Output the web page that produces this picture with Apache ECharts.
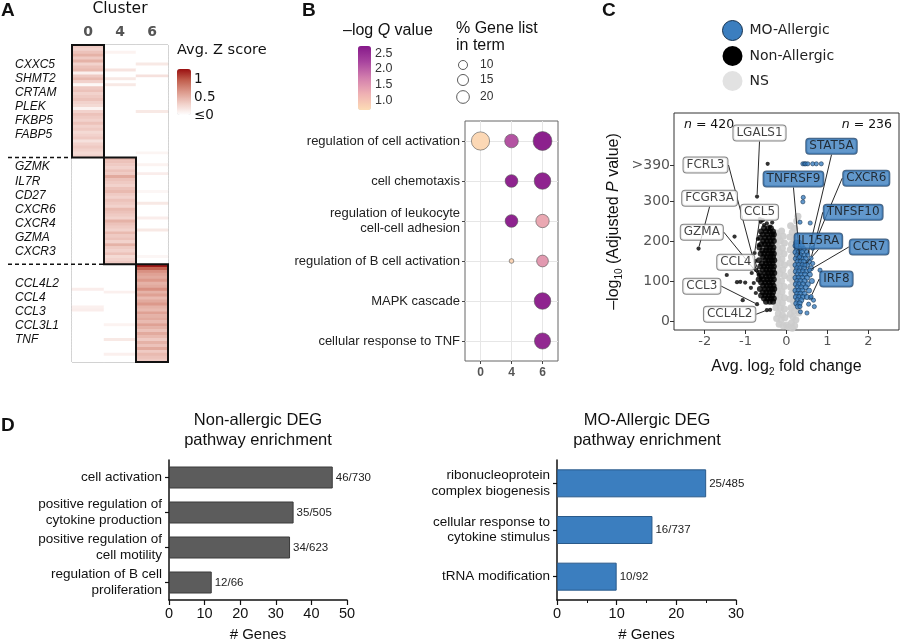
<!DOCTYPE html>
<html>
<head>
<meta charset="utf-8">
<title>Cluster DEG figure</title>
<script src="https://cdn.jsdelivr.net/npm/echarts@6/dist/echarts.min.js"></script>
<style>
  html, body { margin: 0; padding: 0; background: #fff; }
  #main { width: 900px; height: 643px; }
</style>
</head>
<body>
<div id="main"></div>
<script>
// ---------- A: avg Z score heatmap ----------
var clusters = ['0', '4', '6'];
// diagonal block of each cluster, one value per gene row (top to bottom)
var zOwn0 = [0.35, 0.3, 0.4, 0.5, 0.35, 0.5, 0.3, 0.4, 0.45, 0.1, 0.35, 0.45, 0.3, 0.05, 0.35, 0.4, 0.3, 0.35, 0.4,
  0.3, 0.25, 0.08, 0.3, 0.4, 0.35, 0.3, 0.4, 0.3, 0.35, 0.25, 0.3, 0.35, 0.2, 0.3, 0.35, 0.3, 0.25, 0.3];
var zOwn4 = [0.45, 0.4, 0.35, 0.3, 0.4, 0.35, 0.55, 0.4, 0.35, 0.3, 0.4, 0.45, 0.35, 0.3, 0.4, 0.35, 0.3, 0.45,
  0.4, 0.35, 0.3, 0.5, 0.4, 0.35, 0.3, 0.45, 0.35, 0.4, 0.3, 0.5, 0.35, 0.3, 0.4, 0.25, 0.3, 0.35];
var zOwn6 = [1.25, 0.95, 0.7, 0.6, 0.55, 0.65, 0.5, 0.55, 0.7, 0.5, 0.6, 0.45, 0.55, 0.65, 0.5, 0.45, 0.6, 0.5,
  0.55, 0.45, 0.6, 0.5, 0.4, 0.55, 0.45, 0.35, 0.5, 0.4, 0.55, 0.35, 0.45, 0.4, 0.35];
// faint off-block cells: [column, row, value]
var zFaint = [[1, 2, 0.08], [1, 8, 0.18], [1, 11, 0.15], [1, 13, 0.15],
  [2, 6, 0.15], [2, 10, 0.2], [2, 22, 0.15], [2, 36, 0.07],
  [2, 40, 0.08], [2, 43, 0.12], [2, 49, 0.06], [2, 53, 0.15], [2, 58, 0.12], [2, 62, 0.15], [2, 71, 0.06],
  [0, 82, 0.12], [0, 88, 0.1], [0, 89, 0.12],
  [1, 83, 0.1], [1, 94, 0.08], [1, 99, 0.15], [1, 104, 0.1]];
var genes0 = ['CXXC5', 'SHMT2', 'CRTAM', 'PLEK', 'FKBP5', 'FABP5'];
var genes4 = ['GZMK', 'IL7R', 'CD27', 'CXCR6', 'CXCR4', 'GZMA', 'CXCR3'];
var genes6 = ['CCL4L2', 'CCL4', 'CCL3', 'CCL3L1', 'TNF'];
var zTicks = [1, 0.5, 0];

// ---------- B: GO term dot plot ----------
var terms = ['regulation of cell activation', 'cell chemotaxis', 'regulation of leukocyte\ncell-cell adhesion',
  'regulation of B cell activation', 'MAPK cascade', 'cellular response to TNF'];
// [cluster, term index, % gene list in term, -log Q]
var dotData = [
  ['0', 0, 41, 0.75], ['4', 0, 23, 2.1], ['6', 0, 44, 2.65],
  ['4', 1, 20, 2.6], ['6', 1, 34, 2.6],
  ['4', 2, 20, 2.62], ['6', 2, 22, 1.3],
  ['4', 3, 2.7, 0.8], ['6', 3, 17, 1.45],
  ['6', 4, 34, 2.6],
  ['6', 5, 32, 2.55]
];
var qTicks = [2.5, 2.0, 1.5, 1.0];
var pctTicks = [10, 15, 20];

// ---------- C: volcano ----------
var nsPts = [[-0.25, 220], [-0.12, 225], [-0.2, 210], [-0.08, 212], [-0.27, 198], [-0.15, 200], [-0.05, 195],
  [-0.22, 185], [-0.1, 182], [-0.26, 170], [-0.17, 172], [-0.06, 168], [-0.21, 158], [-0.11, 155], [-0.25, 143],
  [-0.15, 145], [-0.05, 140], [-0.2, 130], [-0.09, 128], [-0.26, 117], [-0.16, 118], [-0.05, 113], [-0.22, 103],
  [-0.12, 100], [-0.27, 90], [-0.17, 88], [-0.06, 86], [-0.22, 75], [-0.11, 73], [-0.26, 62], [-0.16, 60],
  [-0.05, 58], [-0.21, 47], [-0.1, 45], [-0.26, 33], [-0.15, 32], [-0.05, 30], [-0.2, 18], [-0.1, 15],
  [-0.24, 6], [-0.13, 3], [-0.04, 8], [-0.18, -8], [-0.08, -12],
  [0.1, 238], [0.2, 232], [0.14, 222], [0.24, 215], [0.08, 210], [0.18, 203], [0.12, 192], [0.23, 188],
  [0.09, 178], [0.17, 172], [0.25, 165], [0.12, 160], [0.2, 150], [0.08, 145], [0.16, 137], [0.24, 130],
  [0.11, 122], [0.19, 115], [0.08, 107], [0.15, 100], [0.23, 93], [0.1, 85], [0.19, 78], [0.13, 70],
  [0.22, 62], [0.08, 55], [0.17, 48], [0.24, 40], [0.11, 33], [0.19, 25], [0.09, 17], [0.16, 10],
  [0.23, 3], [0.12, -5], [0.2, -12], [0.28, 262], [0.25, 250], [0.3, 20], [0.05, -15], [0.0, -10], [0.14, -18]];
// dense core of the non-allergic cloud
var nonAllergicCore = [
  [-0.55, 232], [-0.45, 232], [-0.38, 232], [-0.62, 224], [-0.5, 224], [-0.41, 224], [-0.33, 224],
  [-0.58, 216], [-0.47, 216], [-0.36, 216], [-0.31, 216], [-0.64, 208], [-0.52, 208], [-0.43, 208], [-0.34, 208],
  [-0.57, 200], [-0.48, 200], [-0.39, 200], [-0.31, 200], [-0.62, 192], [-0.53, 192], [-0.44, 192], [-0.36, 192],
  [-0.66, 184], [-0.49, 184], [-0.4, 184], [-0.32, 184], [-0.59, 176], [-0.5, 176], [-0.42, 176], [-0.34, 176],
  [-0.63, 168], [-0.54, 168], [-0.45, 168], [-0.37, 168], [-0.31, 168], [-0.57, 160], [-0.48, 160], [-0.4, 160],
  [-0.33, 160], [-0.67, 152], [-0.52, 152], [-0.44, 152], [-0.36, 152], [-0.3, 152], [-0.6, 144], [-0.5, 144],
  [-0.42, 144], [-0.34, 144], [-0.64, 136], [-0.55, 136], [-0.46, 136], [-0.38, 136], [-0.31, 136],
  [-0.58, 128], [-0.49, 128], [-0.41, 128], [-0.33, 128], [-0.66, 120], [-0.53, 120], [-0.45, 120], [-0.37, 120],
  [-0.3, 120], [-0.6, 112], [-0.5, 112], [-0.42, 112], [-0.34, 112], [-0.68, 104], [-0.56, 104], [-0.47, 104],
  [-0.39, 104], [-0.31, 104], [-0.62, 96], [-0.52, 96], [-0.43, 96], [-0.35, 96], [-0.57, 88], [-0.48, 88],
  [-0.4, 88], [-0.32, 88], [-0.65, 80], [-0.53, 80], [-0.44, 80], [-0.36, 80], [-0.3, 80], [-0.58, 72],
  [-0.49, 72], [-0.41, 72], [-0.33, 72], [-0.62, 64], [-0.52, 64], [-0.43, 64], [-0.35, 64], [-0.55, 56],
  [-0.46, 56], [-0.38, 56], [-0.31, 56], [-0.5, 48], [-0.41, 48], [-0.33, 48]];
var nonAllergicPts = [
  [-0.46, 393], [-1.27, 211], [-1.46, 115], [-1.21, 97], [-1.13, 98], [-1.01, 96], [-0.87, 83],
  [-1.07, 52], [-0.4, 28], [-0.63, 248], [-0.55, 240], [-0.48, 244], [-0.4, 236], [-0.35, 246],
  [-0.68, 190], [-0.7, 205], [-0.76, 150], [-0.8, 95], [-0.75, 70], [-0.65, 255], [-0.58, 252], [-0.85, 120]];
// dense core of the MO-allergic cloud
var moAllergicCore = [
  [0.24, 196], [0.31, 196], [0.22, 188], [0.29, 188], [0.37, 188], [0.25, 180], [0.33, 180], [0.42, 180],
  [0.22, 172], [0.3, 172], [0.38, 172], [0.5, 172], [0.26, 164], [0.34, 164], [0.44, 164], [0.23, 156],
  [0.3, 156], [0.38, 156], [0.47, 156], [0.27, 148], [0.35, 148], [0.42, 148], [0.55, 148], [0.22, 140],
  [0.3, 140], [0.39, 140], [0.5, 140], [0.26, 132], [0.34, 132], [0.43, 132], [0.6, 132], [0.23, 124],
  [0.31, 124], [0.4, 124], [0.49, 124], [0.27, 116], [0.36, 116], [0.45, 116], [0.57, 116], [0.22, 108],
  [0.3, 108], [0.39, 108], [0.5, 108], [0.26, 100], [0.34, 100], [0.44, 100], [0.62, 100], [0.23, 92],
  [0.31, 92], [0.4, 92], [0.52, 92], [0.27, 84], [0.36, 84], [0.47, 84], [0.22, 76], [0.3, 76], [0.39, 76],
  [0.55, 76], [0.26, 68], [0.34, 68], [0.44, 68], [0.23, 60], [0.31, 60], [0.4, 60], [0.5, 60], [0.27, 52],
  [0.36, 52], [0.24, 44], [0.32, 44], [0.28, 36]];
var moAllergicPts = [
  [0.40, 393], [0.44, 393], [0.47, 393], [0.52, 393], [0.64, 393], [0.73, 393], [0.85, 393], [0.41, 309],
  [0.40, 298], [0.33, 247], [0.58, 245], [0.82, 127], [0.64, 144], [0.66, 52], [0.59, 58], [0.54, 42],
  [0.68, 36], [0.33, 36], [0.34, 23], [0.5, 20]];
var nonAllergicGenes = ['LGALS1', 'FCRL3', 'FCGR3A', 'GZMA', 'CCL5', 'CCL4', 'CCL3', 'CCL4L2'];
var nonAllergicGenePts = [[-0.72, 311], [-0.74, 127], [-2.15, 181], [-0.68, 115], [-0.78, 170], [-0.63, 107],
  [-0.72, 42], [-0.48, 27]];
var moAllergicGenes = ['STAT5A', 'TNFRSF9', 'CXCR6', 'TNFSF10', 'IL15RA', 'CCR7', 'IRF8'];
var moAllergicGenePts = [[0.52, 165], [0.32, 160], [0.64, 182], [0.6, 157], [0.45, 140], [0.56, 127], [0.6, 61]];
var fcTicks = [-2, -1, 0, 1, 2];
var pTicks = [0, 100, 200, 300, 390];
var nCounts = ['420', '236'];

// ---------- D: pathway enrichment bars ----------
var nonAllergicTerms = ['cell activation', 'positive regulation of\ncytokine production',
  'positive regulation of\ncell motility', 'regulation of B cell\nproliferation'];
var nonAllergicCounts = [46, 35, 34, 12];
var nonAllergicRatios = ['46/730', '35/505', '34/623', '12/66'];
var moAllergicTerms = ['ribonucleoprotein\ncomplex biogenesis', 'cellular response to\ncytokine stimulus',
  'tRNA modification'];
var moAllergicCounts = [25, 16, 10];
var moAllergicRatios = ['25/485', '16/737', '10/92'];

// ---------- layout (label spots in volcano data units) ----------
var nonAllergicSpots = [[-0.66, 470], [-1.98, 390], [-1.88, 307], [-2.07, 222], [-0.66, 272], [-1.24, 147],
  [-2.07, 87], [-1.39, 17]];
var moAllergicSpots = [[1.10, 437], [0.17, 355], [1.95, 357], [1.63, 272], [0.78, 200], [2.02, 185], [1.22, 105]];

var SANS = '"Liberation Sans", Arial, sans-serif';
var DEJA = '"DejaVu Sans", sans-serif';
var BLUE = '#3b7ebf';

var rowIds = [];
var heatData = [];
(function () {
  var r = 0;
  [zOwn0, zOwn4, zOwn6].forEach(function (vals, b) {
    vals.forEach(function (v) {
      rowIds.push(String(r));
      for (var c = 0; c < 3; c++) heatData.push([c, r, c === b ? v : 0]);
      r++;
    });
  });
  zFaint.forEach(function (f) { heatData[f[1] * 3 + f[0]][2] = f[2]; });
})();

var zMap = { min: 0, max: 1.29, left: 177, top: 69, w: 14, h: 46 };
var qMap = { min: 0.7, max: 2.73, left: 358, top: 46, w: 13, h: 64 };
function dotSize (p) { return 2.85 * Math.sqrt(p); }

var chart = echarts.init(document.getElementById('main'));

function geneLabelLayout (spots) {
  return function (p) {
    var px = chart.convertToPixel({ gridIndex: 2 }, spots[p.dataIndex]);
    return { x: px[0], y: px[1], align: 'center', verticalAlign: 'middle' };
  };
}

var option = {
  animation: false,
  backgroundColor: '#fff',
  textStyle: { fontFamily: SANS },
  grid: [
    { left: 72, top: 45, width: 96, height: 317, show: true, borderColor: '#888', borderWidth: 1 },
    { left: 465, top: 121, width: 93, height: 240, show: true, borderColor: '#666', borderWidth: 1 },
    { left: 674, top: 113, width: 225, height: 217, show: true, borderColor: '#333', borderWidth: 1 },
    { left: 169, top: 460, width: 178, height: 145 },
    { left: 557, top: 460, width: 179, height: 145 }
  ],
  legend: {
    data: [{ name: 'MO-Allergic', itemStyle: { color: BLUE, borderWidth: 1, borderColor: '#14304d', opacity: 1 } },
      { name: 'Non-Allergic', itemStyle: { color: '#000', borderWidth: 0, opacity: 1 } },
      { name: 'NS', itemStyle: { color: '#e2e2e2', borderWidth: 0, opacity: 1 } }],
    orient: 'vertical', left: 722, top: 20, padding: 0, itemWidth: 20, itemHeight: 20, itemGap: 5,
    icon: 'circle', selectedMode: false,
    textStyle: { fontSize: 14, fontFamily: DEJA, color: '#222', padding: [0, 0, 0, 2] }
  },
  visualMap: [
    {
      type: 'continuous', seriesIndex: 0, dimension: 2, min: zMap.min, max: zMap.max,
      left: zMap.left, top: zMap.top, itemWidth: zMap.w, itemHeight: zMap.h, padding: 0,
      calculable: false, text: ['', ''], hoverLink: false,
      inRange: { color: ['#ffffff', '#f1cfc8', '#dc9a8c', '#c2604f', '#9a1010'] }
    },
    {
      type: 'continuous', seriesIndex: 1, dimension: 3, min: qMap.min, max: qMap.max,
      left: qMap.left, top: qMap.top, itemWidth: qMap.w, itemHeight: qMap.h, padding: 0,
      calculable: false, text: ['', ''], hoverLink: false,
      inRange: { color: ['#fddcb5', '#efb1b3', '#d37fad', '#a9459f', '#86198a'] }
    }
  ],
  xAxis: [
    {
      gridIndex: 0, type: 'category', data: clusters, position: 'top',
      axisLine: { show: false }, axisTick: { show: false }, splitLine: { show: false },
      axisLabel: { color: '#555', fontWeight: 'bold', fontSize: 14, fontFamily: DEJA, margin: 6 },
      name: 'Cluster', nameLocation: 'middle', nameGap: 28,
      nameTextStyle: { fontSize: 15.5, color: '#111', fontFamily: DEJA }
    },
    {
      gridIndex: 1, type: 'category', data: clusters,
      axisLine: { show: false }, splitLine: { show: false },
      axisTick: { show: true, alignWithLabel: true, length: 3, lineStyle: { color: '#444' } },
      axisLabel: { color: '#555', fontWeight: 'bold', fontSize: 12, margin: 6 }
    },
    {
      gridIndex: 2, type: 'value', min: -2.75, max: 2.75,
      axisLine: { show: false, onZero: false }, splitLine: { show: false },
      axisTick: { show: true, customValues: fcTicks, length: 4, lineStyle: { color: '#333' } },
      axisLabel: { customValues: fcTicks, color: '#555', fontSize: 13, fontFamily: DEJA, margin: 5 },
      name: 'Avg. log{sub|2} fold change', nameLocation: 'middle', nameGap: 27,
      nameTextStyle: { fontSize: 16, color: '#111', rich: { sub: { fontSize: 10, verticalAlign: 'bottom', padding: [10, 0, 0, 0] } } }
    },
    {
      gridIndex: 3, type: 'value', min: 0, max: 50, interval: 10,
      axisLine: { show: true, onZero: false, lineStyle: { color: '#111', width: 1.5 } },
      axisTick: { show: true, length: 5, lineStyle: { color: '#111', width: 1.2 } },
      splitLine: { show: false },
      axisLabel: { color: '#111', fontSize: 14.5, margin: 6 },
      name: '# Genes', nameLocation: 'middle', nameGap: 27, nameTextStyle: { fontSize: 15, color: '#111' }
    },
    {
      gridIndex: 4, type: 'value', min: 0, max: 30, interval: 10,
      axisLine: { show: true, onZero: false, lineStyle: { color: '#111', width: 1.5 } },
      axisTick: { show: true, length: 5, lineStyle: { color: '#111', width: 1.2 } },
      minorTick: { show: true, splitNumber: 2, length: 3, lineStyle: { color: '#111' } },
      splitLine: { show: false },
      axisLabel: { color: '#111', fontSize: 14.5, margin: 6 },
      name: '# Genes', nameLocation: 'middle', nameGap: 27, nameTextStyle: { fontSize: 15, color: '#111' }
    }
  ],
  yAxis: [
    { gridIndex: 0, type: 'category', data: rowIds, inverse: true, show: false },
    {
      gridIndex: 1, type: 'category', data: terms, inverse: true,
      axisLine: { show: false }, splitLine: { show: false },
      axisTick: { show: true, alignWithLabel: true, length: 3, lineStyle: { color: '#444' } },
      axisLabel: { color: '#222', fontSize: 13, lineHeight: 15, margin: 5 }
    },
    {
      gridIndex: 2, type: 'value', min: -22.5, max: 520,
      axisLine: { show: false, onZero: false }, splitLine: { show: false },
      axisTick: { show: true, customValues: pTicks, length: 4, lineStyle: { color: '#333' } },
      axisLabel: {
        customValues: pTicks, color: '#555', fontSize: 14, fontFamily: DEJA, margin: 4,
        formatter: function (v) { return v === 390 ? '>390' : String(v); }
      },
      name: '\u2013log{sub|10} (Adjusted {i|P} value)', nameLocation: 'middle', nameGap: 50,
      nameTextStyle: {
        fontSize: 16, color: '#111',
        rich: { sub: { fontSize: 10, verticalAlign: 'bottom', padding: [10, 0, 0, 0] }, i: { fontSize: 16, fontStyle: 'italic' } }
      }
    },
    {
      gridIndex: 3, type: 'category', data: nonAllergicTerms, inverse: true,
      axisLine: { show: true, onZero: false, lineStyle: { color: '#111', width: 1.5 } },
      axisTick: { show: true, alignWithLabel: true, length: 4, lineStyle: { color: '#111', width: 1.2 } },
      axisLabel: { color: '#111', fontSize: 13.5, lineHeight: 15.5, margin: 7 }
    },
    {
      gridIndex: 4, type: 'category', data: moAllergicTerms, inverse: true,
      axisLine: { show: true, onZero: false, lineStyle: { color: '#111', width: 1.5 } },
      axisTick: { show: true, alignWithLabel: true, length: 4, lineStyle: { color: '#111', width: 1.2 } },
      axisLabel: { color: '#111', fontSize: 13.5, lineHeight: 15.5, margin: 7 }
    }
  ],
  series: [
    {
      type: 'heatmap', xAxisIndex: 0, yAxisIndex: 0, data: heatData, silent: true,
      itemStyle: { borderWidth: 0 }, emphasis: { disabled: true }
    },
    {
      type: 'scatter', xAxisIndex: 1, yAxisIndex: 1, z: 3, silent: true,
      data: dotData,
      symbolSize: function (v) { return dotSize(v[2]); },
      itemStyle: { borderColor: '#555', borderWidth: 0.6, opacity: 1 },
      markLine: {
        silent: true, symbol: 'none', z: 1, label: { show: false },
        lineStyle: { color: '#e6e6e6', type: 'solid', width: 1 },
        data: clusters.map(function (c) { return { xAxis: c }; })
          .concat(terms.map(function (t) { return { yAxis: t }; }))
      }
    },
    {
      name: 'NS', type: 'scatter', xAxisIndex: 2, yAxisIndex: 2, z: 2, silent: true,
      data: nsPts, symbolSize: 7, itemStyle: { color: '#cccccc', opacity: 0.9 }
    },
    {
      name: 'Non-Allergic', type: 'scatter', xAxisIndex: 2, yAxisIndex: 2, z: 3, silent: true,
      data: nonAllergicCore, symbolSize: 6, itemStyle: { color: '#000' }
    },
    {
      name: 'Non-Allergic', type: 'scatter', xAxisIndex: 2, yAxisIndex: 2, z: 3, silent: true,
      data: nonAllergicPts, symbolSize: 4.2, itemStyle: { color: '#000' }
    },
    {
      name: 'MO-Allergic', type: 'scatter', xAxisIndex: 2, yAxisIndex: 2, z: 4, silent: true,
      data: moAllergicCore, symbolSize: 5.2, itemStyle: { color: BLUE, borderColor: '#14304d', borderWidth: 0.7 }
    },
    {
      name: 'MO-Allergic', type: 'scatter', xAxisIndex: 2, yAxisIndex: 2, z: 4, silent: true,
      data: moAllergicPts, symbolSize: 4.2, itemStyle: { color: BLUE, borderColor: '#14304d', borderWidth: 0.7 }
    },
    {
      name: 'Non-Allergic', type: 'scatter', xAxisIndex: 2, yAxisIndex: 2, z: 6, silent: true,
      data: nonAllergicGenes.map(function (g, i) { return { name: g, value: nonAllergicGenePts[i] }; }),
      symbolSize: 4.2, itemStyle: { color: '#000' },
      label: {
        show: true, formatter: '{b}', fontSize: 12, fontFamily: DEJA, color: '#111', lineHeight: 12,
        backgroundColor: '#fff', borderColor: '#666', borderWidth: 1, borderRadius: 3, padding: [2, 3, 1, 3]
      },
      labelLine: { show: true, lineStyle: { color: '#111', width: 0.9 } },
      labelLayout: geneLabelLayout(nonAllergicSpots)
    },
    {
      name: 'MO-Allergic', type: 'scatter', xAxisIndex: 2, yAxisIndex: 2, z: 6, silent: true,
      data: moAllergicGenes.map(function (g, i) { return { name: g, value: moAllergicGenePts[i] }; }),
      symbolSize: 4.2, itemStyle: { color: BLUE, borderColor: '#14304d', borderWidth: 0.7 },
      label: {
        show: true, formatter: '{b}', fontSize: 12, fontFamily: DEJA, color: '#111', lineHeight: 12,
        backgroundColor: BLUE, borderColor: '#1d3f63', borderWidth: 1, borderRadius: 3, padding: [2, 3, 1, 3]
      },
      labelLine: { show: true, lineStyle: { color: '#111', width: 0.9 } },
      labelLayout: geneLabelLayout(moAllergicSpots)
    },
    {
      type: 'bar', xAxisIndex: 3, yAxisIndex: 3, data: nonAllergicCounts, barWidth: 22, silent: true,
      itemStyle: { color: '#5c5c5c', borderColor: '#3a3a3a', borderWidth: 1 },
      label: {
        show: true, position: 'right', distance: 3, fontSize: 11.5, color: '#222',
        formatter: function (p) { return nonAllergicRatios[p.dataIndex]; }
      }
    },
    {
      type: 'bar', xAxisIndex: 4, yAxisIndex: 4, data: moAllergicCounts, barWidth: 28, silent: true,
      itemStyle: { color: BLUE, borderColor: '#2a5a8a', borderWidth: 1 },
      label: {
        show: true, position: 'right', distance: 3, fontSize: 11.5, color: '#222',
        formatter: function (p) { return moAllergicRatios[p.dataIndex]; }
      }
    }
  ]
};

chart.setOption(option);

// ---------- annotations placed through the chart scales ----------
var els = [];
function px (gi, v) { return chart.convertToPixel({ gridIndex: gi }, v); }
function txt (x, y, text, o) {
  o = o || {};
  els.push({
    type: 'text', x: x, y: y, z: 20, silent: true,
    style: {
      text: text, fill: o.fill || '#111', fontSize: o.size || 14, fontFamily: o.family || SANS,
      fontWeight: o.weight || 'normal', fontStyle: o.style || 'normal',
      align: o.align || 'left', verticalAlign: o.va || 'middle', rich: o.rich, lineHeight: o.lh
    }
  });
}

// heatmap blocks, dashed separators and gene names
var c00 = px(0, [0, 0]);
var c11 = px(0, [1, 1]);
var cw = c11[0] - c00[0];
var ch = c11[1] - c00[1];
var geneLists = [genes0, genes4, genes6];
var start = 0;
[zOwn0, zOwn4, zOwn6].forEach(function (vals, b) {
  var n = vals.length;
  var c = px(0, [b, start]);
  var top = c[1] - ch / 2;
  if (b > 0) {
    var xEnd = b === 1 ? c00[0] - cw / 2 : c00[0] + cw / 2;
    els.push({ type: 'line', z: 19, silent: true, shape: { x1: 8, y1: top, x2: xEnd, y2: top },
      style: { stroke: '#111', lineWidth: 1.5, lineDash: [4, 3] } });
  }
  els.push({ type: 'rect', z: 20, silent: true,
    shape: { x: c[0] - cw / 2, y: top, width: cw, height: n * ch },
    style: { fill: 'none', stroke: '#111', lineWidth: 2 } });
  var mid = top + n * ch / 2 - 1.5;
  geneLists[b].forEach(function (g, i) {
    txt(15, mid + (i - (geneLists[b].length - 1) / 2) * 14.1, g, { size: 12, style: 'italic' });
  });
  start += n;
});

// heatmap colour key
txt(177, 50, 'Avg. Z score', { size: 14.5, family: DEJA });
zTicks.forEach(function (v) {
  var y = zMap.top + (zMap.max - v) / (zMap.max - zMap.min) * zMap.h;
  txt(zMap.left + zMap.w + 3, y, v === 0 ? '\u22640' : String(v), { size: 13.5, family: DEJA });
});

// dot plot keys
txt(343, 31, '\u2013log {i|Q} value', { size: 16, rich: { i: { fontSize: 16, fontStyle: 'italic', fontFamily: SANS } } });
qTicks.forEach(function (v) {
  var y = qMap.top + (qMap.max - v) / (qMap.max - qMap.min) * qMap.h;
  txt(qMap.left + qMap.w + 4, y, v.toFixed(1), { size: 12.5, fill: '#333' });
});
txt(456, 20, '% Gene list\nin term', { size: 16, va: 'top', lh: 17 });
[65, 80, 97].forEach(function (y, i) {
  els.push({ type: 'circle', z: 20, silent: true, shape: { cx: 463, cy: y, r: dotSize(pctTicks[i]) / 2 },
    style: { fill: '#fff', stroke: '#333', lineWidth: 0.8 } });
  txt(480, y, String(pctTicks[i]), { size: 12, fill: '#333' });
});

// volcano counts
txt(684, 125, '{i|n} = ' + nCounts[0], { size: 12.5, family: DEJA, rich: { i: { fontStyle: 'italic', fontSize: 12.5, fontFamily: DEJA } } });
txt(892, 125, '{i|n} = ' + nCounts[1], { size: 12.5, family: DEJA, align: 'right', rich: { i: { fontStyle: 'italic', fontSize: 12.5, fontFamily: DEJA } } });

// bar chart titles
txt(258, 420, 'Non-allergic DEG', { size: 16.5, align: 'center' });
txt(258, 440, 'pathway enrichment', { size: 16.5, align: 'center' });
txt(647, 420, 'MO-Allergic DEG', { size: 16.5, align: 'center' });
txt(647, 440, 'pathway enrichment', { size: 16.5, align: 'center' });

// panel letters
txt(1, 11, 'A', { size: 19, weight: 'bold' });
txt(302, 11, 'B', { size: 19, weight: 'bold' });
txt(602, 11, 'C', { size: 19, weight: 'bold' });
txt(1, 426, 'D', { size: 19, weight: 'bold' });

chart.setOption({ graphic: { elements: els } });
</script>
</body>
</html>
